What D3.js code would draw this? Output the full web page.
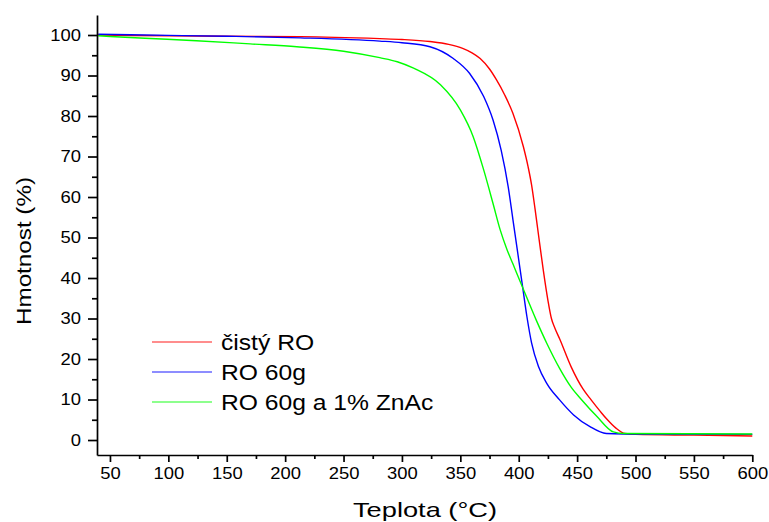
<!DOCTYPE html>
<html>
<head>
<meta charset="utf-8">
<script src="https://cdn.jsdelivr.net/npm/d3@7"></script>
<style>
    body { margin: 0; background: #fff; }
    svg { display: block; font-family: "Liberation Sans", Arial, sans-serif; }
</style>
</head>
<body>
<svg id="chart" width="769" height="522"></svg>
<script>
// Series: [teplota °C, hmotnost %]
const seriesNames = ["čistý RO", "RO 60g", "RO 60g a 1% ZnAc"];
const seriesColors = ["#ff0000", "#0000ff", "#00ff00"];

const cistyRO = [
    [40, 100], [100, 99.8], [150, 99.7], [213, 99.6], [281, 99.1], [300, 98.9], [324, 98.4],
    [340, 97.7], [352, 96.7], [360, 95.6], [367, 94.2], [375, 91.6], [381, 88.9], [388, 85.2],
    [395, 80.7], [404, 72.4], [408, 67.5], [411, 63], [414, 57], [417, 50.5], [421, 42],
    [425, 34.5], [428, 30], [431, 27.6], [435, 25], [445, 18], [455, 12.6], [462, 9.9],
    [470, 7], [475, 5.3], [483, 3], [491, 1.6], [500, 1.4], [550, 1.2], [600, 1.0]
];
const ro60g = [
    [40, 100.2], [100, 99.9], [150, 99.7], [213, 99.3], [281, 98.5], [300, 98.1], [324, 97.1],
    [344, 94.2], [358, 90.5], [370, 84.8], [378, 79], [385, 71.5], [391, 62.5], [395, 54.5],
    [399, 46.5], [403, 38.5], [407, 30.5], [411, 24], [417, 18.1], [424, 14], [435, 9.9],
    [447, 6.2], [461, 3.3], [475, 1.6], [490, 1.5], [600, 1.4]
];
const ro60gZnAc = [
    [40, 99.8], [80, 99.2], [124, 98.6], [170, 97.8], [210, 97.1], [250, 96], [281, 94.4],
    [296, 93.4], [310, 91.8], [333, 87.7], [350, 81.5], [361, 74.9], [370, 66.7], [378, 58.4],
    [384, 52], [390, 47], [395, 43.5], [403, 37.9], [415, 29.6], [424, 23.9], [435, 17.7],
    [445, 13], [454, 9.9], [467, 5.8], [481, 2], [490, 1.6], [600, 1.5]
];
const allSeries = [cistyRO, ro60g, ro60gZnAc];

const xTicks = [50, 100, 150, 200, 250, 300, 350, 400, 450, 500, 550, 600];
const xMinorTicks = [75, 125, 175, 225, 275, 325, 375, 425, 475, 525, 575];
const yTicks = [0, 10, 20, 30, 40, 50, 60, 70, 80, 90, 100];
const yMinorTicks = [5, 15, 25, 35, 45, 55, 65, 75, 85, 95];

const svg = d3.select("#chart");

const x = d3.scaleLinear().domain([38.9, 600]).range([97, 752.3]);
const y = d3.scaleLinear().domain([-3.7, 104.94]).range([455, 15]);

// Helper - the picture is stretched sideways, so widen text by a factor
function widen(sel, factor) {
    sel.each(function () {
        const w = this.getComputedTextLength();
        d3.select(this)
            .attr("textLength", w * factor)
            .attr("lengthAdjust", "spacingAndGlyphs");
    });
}

// curves
const line = d3.line()
    .x(d => x(d[0]))
    .y(d => y(d[1]))
    .curve(d3.curveMonotoneX);

svg.append("g")
    .selectAll("path")
    .data(allSeries)
    .join("path")
    .attr("d", line)
    .attr("fill", "none")
    .attr("stroke", (d, i) => seriesColors[i])
    .attr("stroke-width", 1.4);

// axes
const xAxis = svg.append("g")
    .attr("transform", `translate(0,${y.range()[0]})`)
    .call(d3.axisBottom(x).tickValues(xTicks).tickSize(7).tickPadding(6).tickSizeOuter(0));
svg.append("g")
    .attr("transform", `translate(0,${y.range()[0]})`)
    .call(d3.axisBottom(x).tickValues(xMinorTicks).tickSize(4).tickFormat("").tickSizeOuter(0))
    .select(".domain").remove();

const yAxis = svg.append("g")
    .attr("transform", `translate(${x.range()[0]},0)`)
    .call(d3.axisLeft(y).tickValues(yTicks).tickSize(9).tickPadding(7).tickSizeOuter(0));
svg.append("g")
    .attr("transform", `translate(${x.range()[0]},0)`)
    .call(d3.axisLeft(y).tickValues(yMinorTicks).tickSize(5).tickFormat("").tickSizeOuter(0))
    .select(".domain").remove();

svg.selectAll(".domain, .tick line")
    .attr("stroke", "#000")
    .attr("stroke-width", 1.7);

xAxis.selectAll("text")
    .attr("font-size", 16)
    .attr("font-family", "Liberation Sans, Arial, sans-serif")
    .attr("fill", "#000")
    .call(widen, 1.15);
yAxis.selectAll("text")
    .attr("font-size", 16)
    .attr("font-family", "Liberation Sans, Arial, sans-serif")
    .attr("fill", "#000")
    .call(widen, 1.15);

// axis titles
svg.append("text")
    .attr("x", 425)
    .attr("y", 517)
    .attr("text-anchor", "middle")
    .attr("font-size", 21)
    .attr("textLength", 144)
    .attr("lengthAdjust", "spacingAndGlyphs")
    .text("Teplota (°C)");

svg.append("text")
    .attr("transform", "translate(31,251) rotate(-90)")
    .attr("text-anchor", "middle")
    .attr("font-size", 21)
    .attr("textLength", 148)
    .attr("lengthAdjust", "spacingAndGlyphs")
    .text("Hmotnost (%)");

// legend
const legend = svg.append("g");
const rows = legend.selectAll("g")
    .data(seriesNames)
    .join("g")
    .attr("transform", (d, i) => `translate(152,${342 + i * 30})`);

rows.append("line")
    .attr("x1", 0)
    .attr("x2", 60)
    .attr("stroke", (d, i) => seriesColors[i])
    .attr("stroke-width", 1.5)
    .attr("stroke-opacity", 0.6);

rows.append("text")
    .attr("x", 69)
    .attr("y", 7.5)
    .attr("font-size", 22)
    .text(d => d)
    .call(widen, 1.12);
</script>
</body>
</html>
